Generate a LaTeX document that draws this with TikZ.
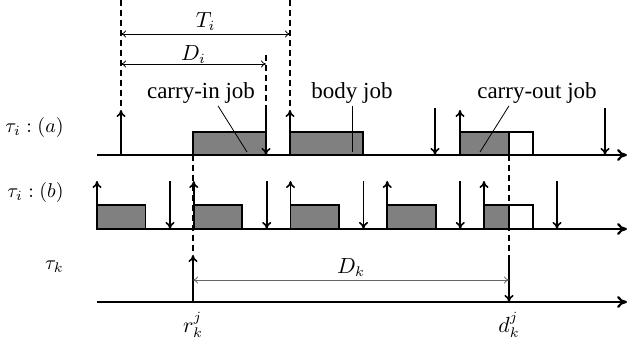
\documentclass[tikz,border=0pt]{standalone}
\usepackage{fontspec}
\setmainfont{Liberation Serif}
\usetikzlibrary{arrows.meta}

\tikzset{
  timeline/.style={line width=1.1pt, -{To[length=5pt,width=6pt]}},
  release/.style={line width=0.8pt, -{To[length=3.5pt,width=4.5pt]}},
  deadline/.style={line width=0.8pt, -{To[length=3.5pt,width=4.5pt]}},
  guide/.style={line width=0.8pt, dash pattern=on 3pt off 2pt},
  span/.style={line width=0.4pt, {To[length=2.5pt,width=3.5pt]}-{To[length=2.5pt,width=3.5pt]}},
  jobbox/.style={draw, line width=0.9pt, fill=gray},
  restbox/.style={draw, line width=0.9pt, fill=white},
  pointer/.style={line width=0.4pt},
  tasklabel/.style={anchor=east, inner sep=0pt, font=\fontsize{10}{12}\selectfont},
  joblabel/.style={inner sep=1pt, font=\fontsize{11.5}{14}\selectfont},
  mathlabel/.style={inner sep=0pt, font=\fontsize{10.5}{12}\selectfont}
}

\begin{document}
\begin{tikzpicture}[x=0.5pt, y=-0.5pt]
\useasboundingbox (0,0) rectangle (627,341);

% task labels
\node[tasklabel] (la) at (64,128) {$\tau_i:(a)$};
\node[tasklabel] (lb) at (64,193) {$\tau_i:(b)$};
\node[tasklabel] (lk) at (64,267) {$\tau_k$};

% row (a): jobs
\draw[jobbox] (193,132) rectangle (266,155);
\draw[jobbox] (290,132) rectangle (363,155);
\draw[jobbox] (460,132) rectangle (509,155);
\draw[restbox] (509,132) rectangle (533,155);

% row (b): jobs
\foreach \r in {97,193.75,290.5,387.25}
  \draw[jobbox] (\r,205) rectangle ({\r+48.5},229);
\draw[jobbox] (484,205) rectangle (509,229);
\draw[restbox] (509,205) rectangle (533,229);

% time lines
\coordinate (a0) at (97,155);  \coordinate (a1) at (627,155);
\coordinate (b0) at (97,229);  \coordinate (b1) at (627,229);
\coordinate (k0) at (97,302);  \coordinate (k1) at (627,302);
\draw[timeline] (a0) -- (a1);
\draw[timeline] (b0) -- (b1);
\draw[timeline] (k0) -- (k1);

% row (a): releases and deadlines
\foreach \r in {121,290,460}
  \draw[release] (\r,155) -- (\r,110);
\foreach \d in {266,435,605}
  \draw[deadline] (\d,108) -- (\d,155);

% row (b): releases and deadlines
\foreach \r in {97,193.75,290.5,387.25,484}
  \draw[release] (\r,229) -- (\r,181);
\foreach \d in {170,266.75,363.5,460.25,557}
  \draw[deadline] (\d,181) -- (\d,229);

% tau_k: release and deadline
\coordinate (rk) at (193,302);
\coordinate (dk) at (509,302);
\coordinate (rktop) at (193,255);
\coordinate (dktop) at (509,257);
\draw[release] (rk) -- (rktop);
\draw[deadline] (dktop) -- (dk);

% guide lines
\coordinate (ta) at (121,0);   \coordinate (tb) at (290,0);
\coordinate (dd) at (266,55);
\draw[guide] (ta) -- (121,110);
\draw[guide] (tb) -- (290,110);
\draw[guide] (dd) -- (266,108);
\draw[guide] (193,155) -- (rktop);
\draw[guide] (509,155) -- (dktop);

% periods and deadlines
\draw[span] (121,34) -- node[mathlabel, above=1.5pt] (Ti) {$T_i$} (290,34);
\draw[span] (121,64) -- node[mathlabel, above=0pt] (Di) {$D_i$} (266,64);
\draw[span, draw=gray!80!black] (193,280) -- node[mathlabel, above=1.5pt] (Dk) {$D_k$} (509,280);
\node[mathlabel] (r) at (193,325) {$r^j_k$};
\node[mathlabel] (d) at (509,325) {$d^j_k$};

% job labels
\node[joblabel] (cin) at (201,93) {carry-in job};
\node[joblabel] (body) at (352,93) {body job};
\node[joblabel] (cout) at (537,93) {carry-out job};
\draw[pointer] (cin.south) ++(17,0) -- (247,152);
\draw[pointer] (body.south) -- (352,152);
\draw[pointer] (cout.south) ++(-28,0) -- (480,152);
\end{tikzpicture}
\end{document}
